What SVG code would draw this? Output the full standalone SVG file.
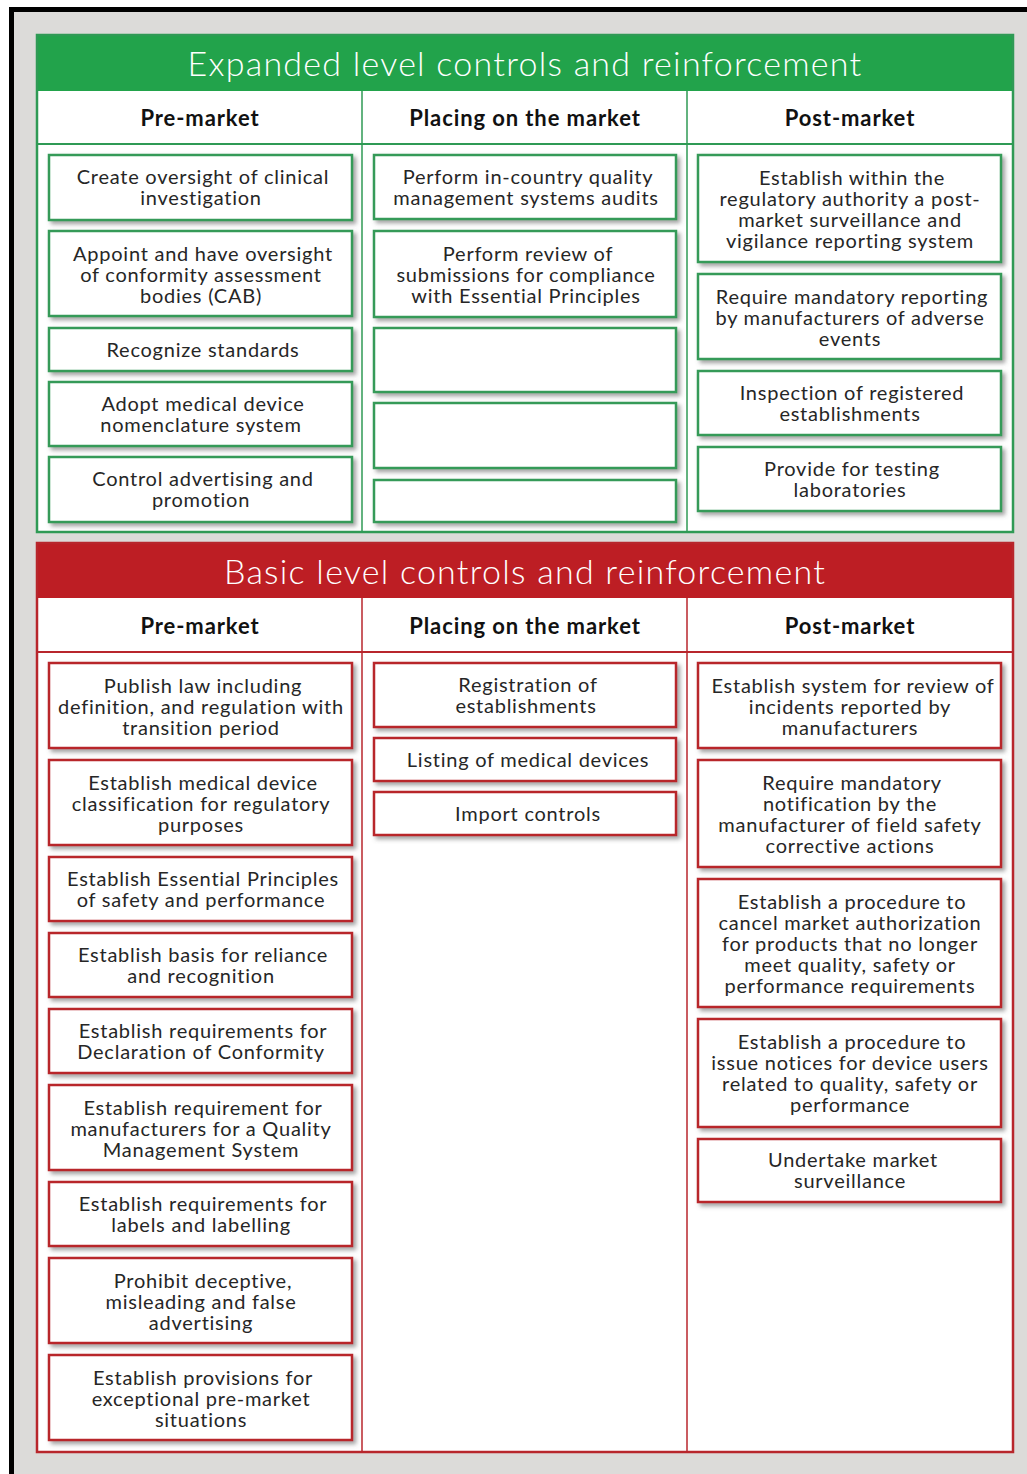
<svg xmlns="http://www.w3.org/2000/svg" width="1027" height="1474" viewBox="0 0 1027 1474">
  <defs>
    <filter id="shadow" x="-5%" y="-10%" width="115%" height="130%">
      <feDropShadow dx="3" dy="3" stdDeviation="2" flood-color="#555" flood-opacity="0.55"/>
    </filter>
  </defs>
  <style>
    .frame { fill: #dcdbd9; }
    .panel { fill: #ffffff; }
    .green-band { fill: #22a34b; }
    .red-band { fill: #bd1e24; }
    .green-line { stroke: #2f9a55; fill: none; }
    .red-line { stroke: #b8262c; fill: none; }
    .gbox { fill: #ffffff; stroke: #349a58; stroke-width: 2.5; filter: url(#shadow); }
    .rbox { fill: #ffffff; stroke: #b8262c; stroke-width: 2.5; filter: url(#shadow); }
    .title { font-family: Lato, "Liberation Sans", sans-serif; font-weight: 300; font-size: 34px; fill: #ffffff; text-anchor: middle; letter-spacing: 1.25px; }
    .colhead { font-family: Lato, "Liberation Sans", sans-serif; font-weight: 700; font-size: 22px; fill: #111; text-anchor: middle; letter-spacing: 0.9px; }
    .lbl { font-family: Lato, "Liberation Sans", sans-serif; font-weight: 400; font-size: 20px; fill: #262626; text-anchor: middle; letter-spacing: 0.75px; }
  </style>

  <!-- page frame -->
  <rect x="0" y="0" width="1027" height="1474" fill="#ffffff"/>
  <rect class="frame" x="9" y="7" width="1018" height="1467"/>
  <path d="M11.5 1474 V9.5 H1027" stroke="#000" stroke-width="5" fill="none"/>

  <!-- Expanded level panel -->
  <g id="expanded-panel">
    <rect class="panel" x="37" y="35" width="976" height="497"/>
    <rect class="green-band" x="37" y="35" width="976" height="56"/>
    <rect class="green-line" x="37" y="35" width="976" height="497" stroke-width="2.5"/>
    <line class="green-line" x1="37" y1="144" x2="1013" y2="144" stroke-width="2"/>
    <line class="green-line" x1="362" y1="91" x2="362" y2="532" stroke-width="1.5"/>
    <line class="green-line" x1="687" y1="91" x2="687" y2="532" stroke-width="1.5"/>
    <text class="title" x="525" y="76">Expanded level controls and reinforcement</text>
    <text class="colhead" x="200" y="126">Pre-market</text>
    <text class="colhead" x="525" y="126">Placing on the market</text>
    <text class="colhead" x="850" y="126">Post-market</text>
  </g>

  <!-- Basic level panel -->
  <g id="basic-panel">
    <rect class="panel" x="37" y="543" width="976" height="909"/>
    <rect class="red-band" x="37" y="543" width="976" height="55"/>
    <rect class="red-line" x="37" y="543" width="976" height="909" stroke-width="2.5"/>
    <line class="red-line" x1="37" y1="652" x2="1013" y2="652" stroke-width="2"/>
    <line class="red-line" x1="362" y1="598" x2="362" y2="1452" stroke-width="1.5"/>
    <line class="red-line" x1="687" y1="598" x2="687" y2="1452" stroke-width="1.5"/>
    <text class="title" x="525" y="584">Basic level controls and reinforcement</text>
    <text class="colhead" x="200" y="634">Pre-market</text>
    <text class="colhead" x="525" y="634">Placing on the market</text>
    <text class="colhead" x="850" y="634">Post-market</text>
  </g>

  <!-- Expanded: pre-market -->
  <g id="e-pre-1"><rect class="gbox" x="49" y="155" width="303" height="65"/>
    <text class="lbl"><tspan x="203" y="184">Create oversight of clinical</tspan><tspan x="201" y="205">investigation</tspan></text></g>
  <g id="e-pre-2"><rect class="gbox" x="49" y="231" width="303" height="85"/>
    <text class="lbl"><tspan x="203" y="261">Appoint and have oversight</tspan><tspan x="201" y="282">of conformity assessment</tspan><tspan x="201" y="303">bodies (CAB)</tspan></text></g>
  <g id="e-pre-3"><rect class="gbox" x="49" y="328" width="303" height="43"/>
    <text class="lbl"><tspan x="203" y="357">Recognize standards</tspan></text></g>
  <g id="e-pre-4"><rect class="gbox" x="49" y="382" width="303" height="64"/>
    <text class="lbl"><tspan x="203" y="411">Adopt medical device</tspan><tspan x="201" y="432">nomenclature system</tspan></text></g>
  <g id="e-pre-5"><rect class="gbox" x="49" y="457" width="303" height="65"/>
    <text class="lbl"><tspan x="203" y="486">Control advertising and</tspan><tspan x="201" y="507">promotion</tspan></text></g>

  <!-- Expanded: placing on the market -->
  <g id="e-place-1"><rect class="gbox" x="374" y="155" width="302" height="64"/>
    <text class="lbl"><tspan x="528" y="184">Perform in-country quality</tspan><tspan x="526" y="205">management systems audits</tspan></text></g>
  <g id="e-place-2"><rect class="gbox" x="374" y="231" width="302" height="86"/>
    <text class="lbl"><tspan x="528" y="261">Perform review of</tspan><tspan x="526" y="282">submissions for compliance</tspan><tspan x="526" y="303">with Essential Principles</tspan></text></g>
  <g id="e-place-3"><rect class="gbox" x="374" y="328" width="302" height="64"/></g>
  <g id="e-place-4"><rect class="gbox" x="374" y="403" width="302" height="65"/></g>
  <g id="e-place-5"><rect class="gbox" x="374" y="480" width="302" height="42"/></g>

  <!-- Expanded: post-market -->
  <g id="e-post-1"><rect class="gbox" x="698" y="155" width="303" height="107"/>
    <text class="lbl"><tspan x="852" y="185">Establish within the</tspan><tspan x="850" y="206">regulatory authority a post-</tspan><tspan x="850" y="227">market surveillance and</tspan><tspan x="850" y="248">vigilance reporting system</tspan></text></g>
  <g id="e-post-2"><rect class="gbox" x="698" y="274" width="303" height="85"/>
    <text class="lbl"><tspan x="852" y="304">Require mandatory reporting</tspan><tspan x="850" y="325">by manufacturers of adverse</tspan><tspan x="850" y="346">events</tspan></text></g>
  <g id="e-post-3"><rect class="gbox" x="698" y="371" width="303" height="64"/>
    <text class="lbl"><tspan x="852" y="400">Inspection of registered</tspan><tspan x="850" y="421">establishments</tspan></text></g>
  <g id="e-post-4"><rect class="gbox" x="698" y="447" width="303" height="64"/>
    <text class="lbl"><tspan x="852" y="476">Provide for testing</tspan><tspan x="850" y="497">laboratories</tspan></text></g>

  <!-- Basic: pre-market -->
  <g id="b-pre-1"><rect class="rbox" x="49" y="663" width="303" height="85"/>
    <text class="lbl"><tspan x="203" y="693">Publish law including</tspan><tspan x="201" y="714">definition, and regulation with</tspan><tspan x="201" y="735">transition period</tspan></text></g>
  <g id="b-pre-2"><rect class="rbox" x="49" y="760" width="303" height="85"/>
    <text class="lbl"><tspan x="203" y="790">Establish medical device</tspan><tspan x="201" y="811">classification for regulatory</tspan><tspan x="201" y="832">purposes</tspan></text></g>
  <g id="b-pre-3"><rect class="rbox" x="49" y="857" width="303" height="64"/>
    <text class="lbl"><tspan x="203" y="886">Establish Essential Principles</tspan><tspan x="201" y="907">of safety and performance</tspan></text></g>
  <g id="b-pre-4"><rect class="rbox" x="49" y="933" width="303" height="64"/>
    <text class="lbl"><tspan x="203" y="962">Establish basis for reliance</tspan><tspan x="201" y="983">and recognition</tspan></text></g>
  <g id="b-pre-5"><rect class="rbox" x="49" y="1009" width="303" height="64"/>
    <text class="lbl"><tspan x="203" y="1038">Establish requirements for</tspan><tspan x="201" y="1059">Declaration of Conformity</tspan></text></g>
  <g id="b-pre-6"><rect class="rbox" x="49" y="1085" width="303" height="85"/>
    <text class="lbl"><tspan x="203" y="1115">Establish requirement for</tspan><tspan x="201" y="1136">manufacturers for a Quality</tspan><tspan x="201" y="1157">Management System</tspan></text></g>
  <g id="b-pre-7"><rect class="rbox" x="49" y="1182" width="303" height="64"/>
    <text class="lbl"><tspan x="203" y="1211">Establish requirements for</tspan><tspan x="201" y="1232">labels and labelling</tspan></text></g>
  <g id="b-pre-8"><rect class="rbox" x="49" y="1258" width="303" height="85"/>
    <text class="lbl"><tspan x="203" y="1288">Prohibit deceptive,</tspan><tspan x="201" y="1309">misleading and false</tspan><tspan x="201" y="1330">advertising</tspan></text></g>
  <g id="b-pre-9"><rect class="rbox" x="49" y="1355" width="303" height="85"/>
    <text class="lbl"><tspan x="203" y="1385">Establish provisions for</tspan><tspan x="201" y="1406">exceptional pre-market</tspan><tspan x="201" y="1427">situations</tspan></text></g>

  <!-- Basic: placing on the market -->
  <g id="b-place-1"><rect class="rbox" x="374" y="663" width="302" height="64"/>
    <text class="lbl"><tspan x="528" y="692">Registration of</tspan><tspan x="526" y="713">establishments</tspan></text></g>
  <g id="b-place-2"><rect class="rbox" x="374" y="738" width="302" height="43"/>
    <text class="lbl"><tspan x="528" y="767">Listing of medical devices</tspan></text></g>
  <g id="b-place-3"><rect class="rbox" x="374" y="792" width="302" height="43"/>
    <text class="lbl"><tspan x="528" y="821">Import controls</tspan></text></g>

  <!-- Basic: post-market -->
  <g id="b-post-1"><rect class="rbox" x="698" y="663" width="303" height="85"/>
    <text class="lbl"><tspan x="853" y="693">Establish system for review of</tspan><tspan x="850" y="714">incidents reported by</tspan><tspan x="850" y="735">manufacturers</tspan></text></g>
  <g id="b-post-2"><rect class="rbox" x="698" y="760" width="303" height="107"/>
    <text class="lbl"><tspan x="852" y="790">Require mandatory</tspan><tspan x="850" y="811">notification by the</tspan><tspan x="850" y="832">manufacturer of field safety</tspan><tspan x="850" y="853">corrective actions</tspan></text></g>
  <g id="b-post-3"><rect class="rbox" x="698" y="879" width="303" height="128"/>
    <text class="lbl"><tspan x="852" y="909">Establish a procedure to</tspan><tspan x="850" y="930">cancel market authorization</tspan><tspan x="850" y="951">for products that no longer</tspan><tspan x="850" y="972">meet quality, safety or</tspan><tspan x="850" y="993">performance requirements</tspan></text></g>
  <g id="b-post-4"><rect class="rbox" x="698" y="1019" width="303" height="108"/>
    <text class="lbl"><tspan x="852" y="1049">Establish a procedure to</tspan><tspan x="850" y="1070">issue notices for device users</tspan><tspan x="850" y="1091">related to quality, safety or</tspan><tspan x="850" y="1112">performance</tspan></text></g>
  <g id="b-post-5"><rect class="rbox" x="698" y="1139" width="303" height="63"/>
    <text class="lbl"><tspan x="853" y="1167">Undertake market</tspan><tspan x="850" y="1188">surveillance</tspan></text></g>
</svg>
